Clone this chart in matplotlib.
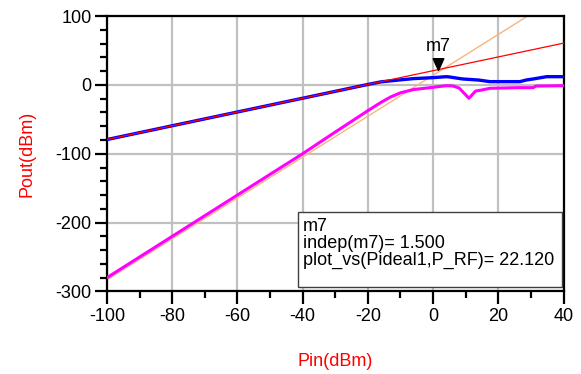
import matplotlib
matplotlib.use("Agg")
import matplotlib.pyplot as plt
from matplotlib.patches import Rectangle

plt.rcParams["font.family"] = ["Liberation Sans", "DejaVu Sans"]
plt.rcParams["axes.unicode_minus"] = False

# linear extrapolation (fundamental), slope 1
red_x = [-100, 40]
red_y = [-79.4, 60.6]

# third-order extrapolation line
orange_x = [-100, 29]
orange_y = [-283, 100]

# fundamental output power
blue_x = [-100, -20, -16, -10, -6, 0, 4, 5, 9, 14, 17.4, 26.6, 28.6, 30.7, 34.8, 40]
blue_y = [-79.4, 0.6, 4.4, 7.3, 9.1, 10.5, 11.9, 11.5, 8.6, 7.0, 4.7, 4.7, 7.1, 8.6, 11.9, 11.9]

# third-order intermod output power
mag_x = [-100, -40, -30, -25, -20, -16, -13, -10, -6, 0, 4, 6, 8, 11, 13, 15,
         17.4, 26, 30.7, 31.5, 40]
mag_y = [-280, -100, -68.5, -53, -37.5, -25.5, -17.5, -11.5, -6.8, -3.5, -1.2, -1.5,
         -4.6, -19.5, -9, -7.4, -5, -4, -4, -1.7, -1.2]

marker_x = 1.5
marker_y = 22.12
marker_name = "m7"
marker_lines = ["m7", "indep(m7)= 1.500", "plot_vs(Pideal1,P_RF)= 22.120"]

xticks = [-100, -80, -60, -40, -20, 0, 20, 40]
yticks = [-300, -200, -100, 0, 100]

fig = plt.figure(figsize=(5.81, 3.74), dpi=100)
ax = fig.add_axes([0.184, 0.2206, 0.786, 0.7366])

ax.plot(orange_x, orange_y, color="#f8b47c", lw=1.0, zorder=2)
ax.plot(mag_x, mag_y, color="#ff00ff", lw=2.2, zorder=3)
ax.plot(blue_x, blue_y, color="#0000ff", lw=2.4, zorder=4)
ax.plot(red_x, red_y, color="#ff0000", lw=0.9, zorder=5)

# marker: downward triangle with its tip on the point
ax.plot(marker_x, marker_y, marker=[(0, 0), (-0.45, 1), (0.45, 1), (0, 0)],
        ms=17, color="black", ls="none", zorder=6, clip_on=False)
ax.annotate(marker_name, xy=(marker_x, marker_y), xytext=(0, 10.5),
            textcoords="offset points", ha="center", va="bottom", fontsize=13)

ax.set_xlim(-100, 40)
ax.set_ylim(-300, 100)
ax.set_xticks(xticks)
ax.set_yticks(yticks)
ax.set_xticks(range(-90, 40, 20), minor=True)
ax.set_yticks([v for v in range(-280, 100, 20) if v % 100 != 0], minor=True)
ax.grid(True, which="major", color="#c0c0c0", lw=1.6, zorder=0)
ax.set_axisbelow(True)

for s in ax.spines.values():
    s.set_linewidth(1.6)
    s.set_color("black")

ax.tick_params(axis="both", which="major", direction="out", length=9, width=1.6,
               labelsize=13, colors="black")
ax.tick_params(axis="both", which="minor", direction="out", length=5, width=1.6)
ax.tick_params(axis="y", which="major", pad=2)
ax.tick_params(axis="x", which="major", pad=3)

# marker readout box
ax.add_patch(Rectangle((0.418, 0.016), 0.579, 0.273, transform=ax.transAxes,
                       facecolor="white", edgecolor="#404040", lw=1.0, zorder=7))
ax.text(0.429, 0.268, "\n".join(marker_lines), transform=ax.transAxes,
        ha="left", va="top", fontsize=13, linespacing=1.0, zorder=8)

fig.text(27 / 581, 1 - 154 / 374, "Pout(dBm)", rotation=90, color="red",
         fontsize=13, ha="center", va="center")
fig.text(335 / 581, 1 - 361 / 374, "Pin(dBm)", color="red",
         fontsize=13, ha="center", va="center")

fig.savefig("out.png", dpi=100)
